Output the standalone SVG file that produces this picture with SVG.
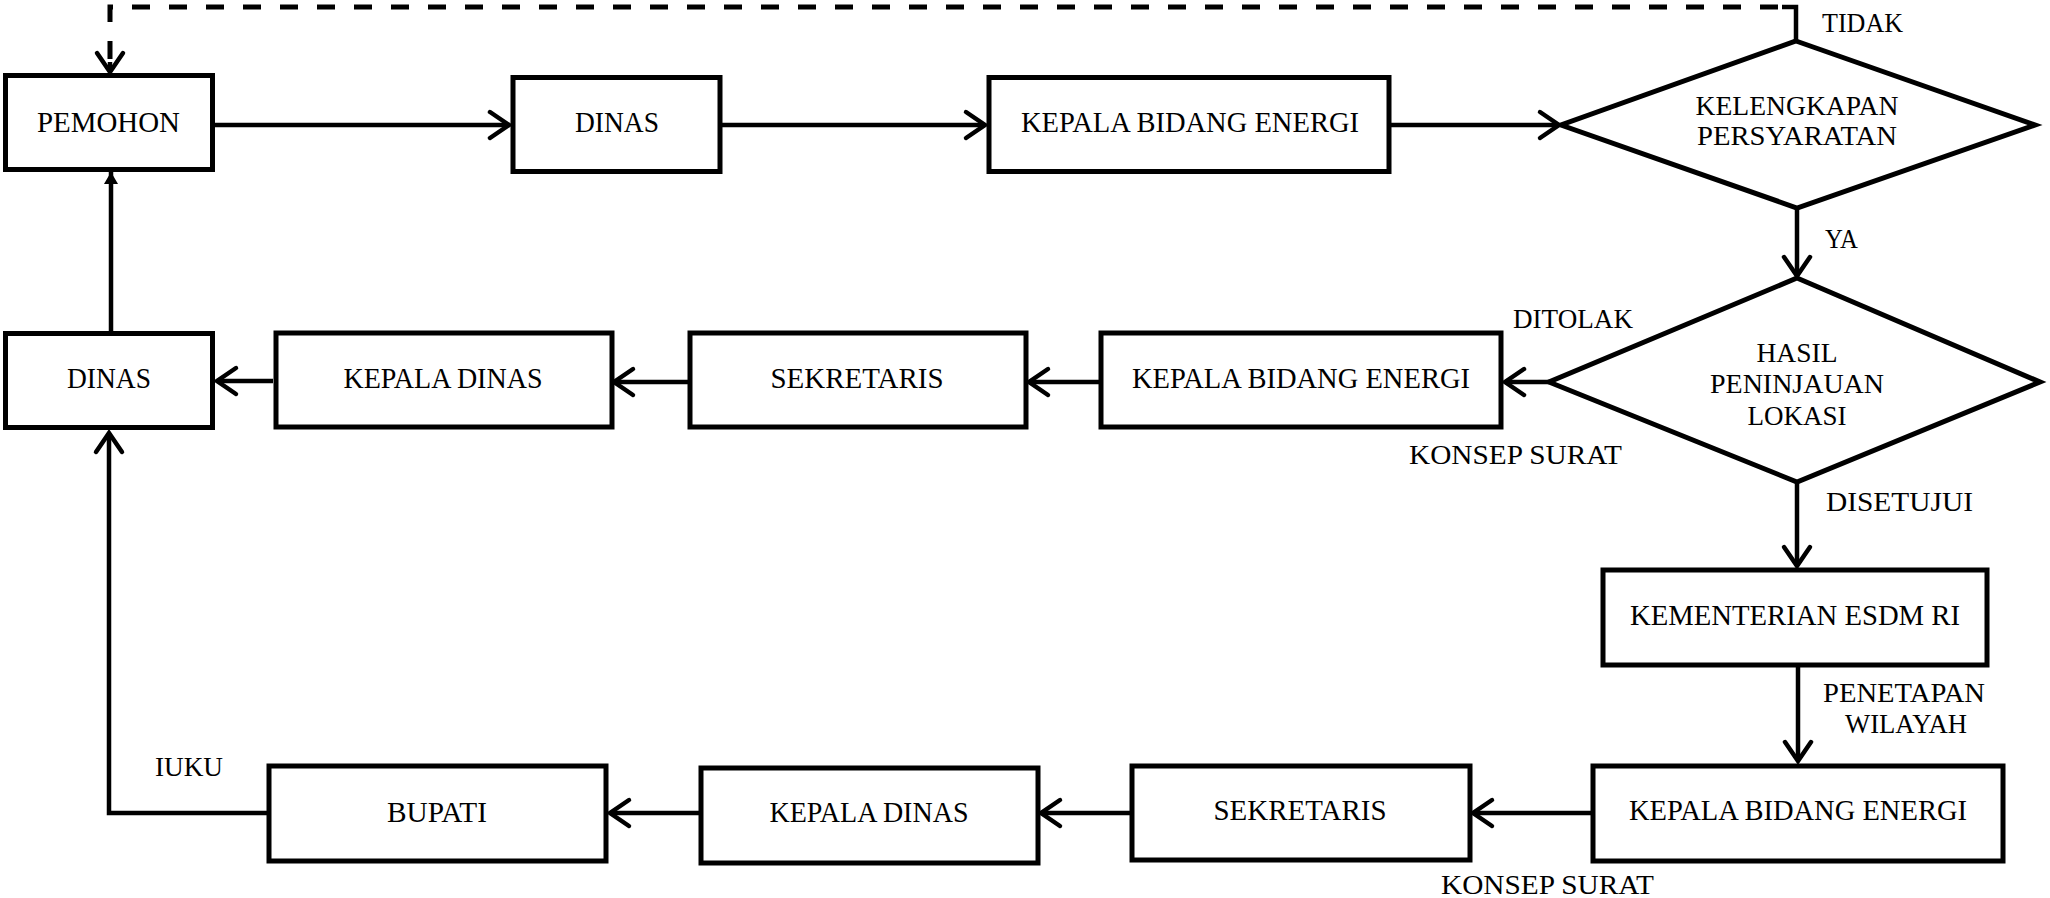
<svg xmlns="http://www.w3.org/2000/svg" width="2050" height="898" viewBox="0 0 2050 898">
<style>
.box{fill:#fff;stroke:#000;stroke-width:5}
.dia{fill:#fff;stroke:#000;stroke-width:5;stroke-linejoin:miter}
.t{font-family:"Liberation Serif","Times New Roman",serif;font-size:28.5px;fill:#000;text-anchor:middle}
.dt{font-family:"Liberation Serif","Times New Roman",serif;font-size:27px;fill:#000;text-anchor:middle}
.lb{font-family:"Liberation Serif","Times New Roman",serif;font-size:27px;fill:#000}
.c{fill:none;stroke:#000;stroke-width:4.5}
.dash{fill:none;stroke:#000;stroke-width:5;stroke-dasharray:18 19}
</style>
<defs>
<marker id="chev" markerUnits="userSpaceOnUse" orient="auto" refX="0" refY="0" markerWidth="40" markerHeight="40" viewBox="-25 -20 30 40" overflow="visible">
<path d="M-19,-13 L0,0 L-19,13" fill="none" stroke="#000" stroke-width="4.5" stroke-linecap="round" stroke-linejoin="miter"/>
</marker>
<marker id="tri" markerUnits="userSpaceOnUse" orient="auto" refX="0" refY="0" markerWidth="20" markerHeight="20" viewBox="-15 -10 20 20" overflow="visible">
<path d="M-12,-7 L0,0 L-12,7 Z" fill="#000"/>
</marker>
</defs>

<g id="connectors">
<path class="c" d="M213,125 H509" marker-end="url(#chev)"/>
<path class="c" d="M720,125 H985" marker-end="url(#chev)"/>
<path class="c" d="M1390,125 H1559" marker-end="url(#chev)"/>
<path class="c" d="M1797,208 V276" marker-end="url(#chev)"/>
<path class="c" d="M1549,382 H1505" marker-end="url(#chev)"/>
<path class="c" d="M1101,382 H1029" marker-end="url(#chev)"/>
<path class="c" d="M689,382 H614" marker-end="url(#chev)"/>
<path class="c" d="M273,381 H217" marker-end="url(#chev)"/>
<path class="c" d="M111,331 V172" marker-end="url(#tri)"/>
<path class="c" d="M1797,482 V566" marker-end="url(#chev)"/>
<path class="c" d="M1798,665 V761" marker-end="url(#chev)"/>
<path class="c" d="M1593,813 H1473" marker-end="url(#chev)"/>
<path class="c" d="M1132,813 H1041" marker-end="url(#chev)"/>
<path class="c" d="M700,813 H610" marker-end="url(#chev)"/>
<path class="c" d="M269,813 H109 V433" marker-end="url(#chev)" stroke-linejoin="miter"/>
<path class="c" d="M1796,41 V7 H1782" stroke-width="5"/>
<path class="dash" d="M1778,7 H110 V70"/>
<path class="c" d="M110,62 V72" marker-end="url(#chev)"/>
</g>

<g id="n-pemohon"><rect class="box" x="5.5" y="75.5" width="207" height="94"/><text class="t" x="108.5" y="132" textLength="143" lengthAdjust="spacingAndGlyphs">PEMOHON</text></g>
<g id="n-dinas1"><rect class="box" x="513" y="77.5" width="207" height="94"/><text class="t" x="617" y="132" textLength="84" lengthAdjust="spacingAndGlyphs">DINAS</text></g>
<g id="n-kbe1"><rect class="box" x="989" y="77.5" width="400" height="94"/><text class="t" x="1190" y="132" textLength="338" lengthAdjust="spacingAndGlyphs">KEPALA BIDANG ENERGI</text></g>
<g id="n-kelengkapan"><polygon class="dia" points="1796,41 2035,125 1797,208 1561,125"/><text class="dt" x="1797" y="115" textLength="203" lengthAdjust="spacingAndGlyphs">KELENGKAPAN</text><text class="dt" x="1797" y="145" textLength="200" lengthAdjust="spacingAndGlyphs">PERSYARATAN</text></g>

<g id="n-dinas2"><rect class="box" x="5.5" y="333.5" width="207" height="94"/><text class="t" x="109" y="388" textLength="84" lengthAdjust="spacingAndGlyphs">DINAS</text></g>
<g id="n-kd2"><rect class="box" x="276" y="333" width="336" height="94"/><text class="t" x="443" y="388" textLength="199" lengthAdjust="spacingAndGlyphs">KEPALA DINAS</text></g>
<g id="n-sek2"><rect class="box" x="690" y="333" width="336" height="94"/><text class="t" x="857" y="388" textLength="173" lengthAdjust="spacingAndGlyphs">SEKRETARIS</text></g>
<g id="n-kbe2"><rect class="box" x="1101" y="333" width="400" height="94"/><text class="t" x="1301" y="388" textLength="338" lengthAdjust="spacingAndGlyphs">KEPALA BIDANG ENERGI</text></g>
<g id="n-hasil"><polygon class="dia" points="1797,278 2040,382 1797,482 1549,382"/><text class="dt" x="1797" y="362" textLength="81" lengthAdjust="spacingAndGlyphs">HASIL</text><text class="dt" x="1797" y="393" textLength="174" lengthAdjust="spacingAndGlyphs">PENINJAUAN</text><text class="dt" x="1797" y="425" textLength="99" lengthAdjust="spacingAndGlyphs">LOKASI</text></g>

<g id="n-kementerian"><rect class="box" x="1603" y="570" width="384" height="95"/><text class="t" x="1795" y="625" textLength="330" lengthAdjust="spacingAndGlyphs">KEMENTERIAN ESDM RI</text></g>

<g id="n-kbe3"><rect class="box" x="1593" y="766" width="410" height="95"/><text class="t" x="1798" y="820" textLength="338" lengthAdjust="spacingAndGlyphs">KEPALA BIDANG ENERGI</text></g>
<g id="n-sek4"><rect class="box" x="1132" y="766" width="338" height="94"/><text class="t" x="1300" y="820" textLength="173" lengthAdjust="spacingAndGlyphs">SEKRETARIS</text></g>
<g id="n-kd4"><rect class="box" x="701" y="768" width="337" height="95"/><text class="t" x="869" y="822" textLength="199" lengthAdjust="spacingAndGlyphs">KEPALA DINAS</text></g>
<g id="n-bupati"><rect class="box" x="269" y="766" width="337" height="95"/><text class="t" x="437" y="822" textLength="100" lengthAdjust="spacingAndGlyphs">BUPATI</text></g>

<g id="labels">
<text class="lb" x="1822" y="32" textLength="81" lengthAdjust="spacingAndGlyphs">TIDAK</text>
<text class="lb" x="1825" y="248" textLength="33" lengthAdjust="spacingAndGlyphs">YA</text>
<text class="lb" x="1513" y="328" textLength="120" lengthAdjust="spacingAndGlyphs">DITOLAK</text>
<text class="lb" x="1409" y="464" textLength="213" lengthAdjust="spacingAndGlyphs">KONSEP SURAT</text>
<text class="lb" x="1826" y="511" textLength="147" lengthAdjust="spacingAndGlyphs">DISETUJUI</text>
<text class="lb" x="1823" y="702" textLength="162" lengthAdjust="spacingAndGlyphs">PENETAPAN</text>
<text class="lb" x="1845" y="733" textLength="122" lengthAdjust="spacingAndGlyphs">WILAYAH</text>
<text class="lb" x="155" y="776" textLength="68" lengthAdjust="spacingAndGlyphs">IUKU</text>
<text class="lb" x="1441" y="894" textLength="213" lengthAdjust="spacingAndGlyphs">KONSEP SURAT</text>
</g>
</svg>
